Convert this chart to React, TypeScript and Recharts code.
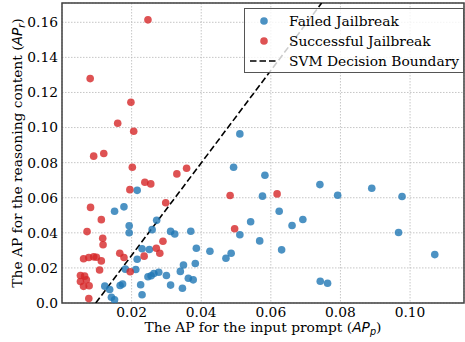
import React from 'react';
import {
  ScatterChart,
  Scatter,
  XAxis,
  YAxis,
  CartesianGrid,
  ReferenceLine,
  ReferenceArea,
  Legend,
} from 'recharts';

// Failed jailbreak points: [AP_p, AP_r]
const failedJailbreak: [number, number][] = [
  [0.0511, 0.0964], [0.0493, 0.0774], [0.0583, 0.0728], [0.0576, 0.0609],
  [0.0624, 0.0523], [0.0692, 0.0476], [0.0661, 0.0442], [0.0542, 0.0463],
  [0.0272, 0.0471], [0.0259, 0.0418], [0.0511, 0.0389], [0.0312, 0.0408],
  [0.0324, 0.0393], [0.0370, 0.0409], [0.0568, 0.0354], [0.0251, 0.0305],
  [0.0230, 0.0309], [0.0386, 0.0312], [0.0425, 0.0295], [0.0486, 0.0284],
  [0.0471, 0.0255], [0.0631, 0.0303], [0.0383, 0.0225], [0.0349, 0.0217],
  [0.0340, 0.0180], [0.0278, 0.0175], [0.0264, 0.0168], [0.0256, 0.0155],
  [0.0247, 0.0150], [0.0300, 0.0157], [0.0363, 0.0141], [0.0377, 0.0132],
  [0.0312, 0.0102], [0.0346, 0.0084], [0.0741, 0.0675], [0.0792, 0.0614],
  [0.0890, 0.0654], [0.0977, 0.0607], [0.0967, 0.0402], [0.1071, 0.0276],
  [0.0742, 0.0124], [0.0763, 0.0113], [0.0216, 0.0642], [0.0151, 0.0523],
  [0.0178, 0.0548], [0.0193, 0.0440], [0.0193, 0.0400], [0.0216, 0.0249],
  [0.0182, 0.0193], [0.0212, 0.0191], [0.0123, 0.0096], [0.0137, 0.0077],
  [0.0142, 0.0033], [0.0151, 0.0018], [0.0167, 0.0100], [0.0174, 0.0108],
  [0.0226, 0.0104], [0.0230, 0.0047],
];

// Successful jailbreak points: [AP_p, AP_r]
const successfulJailbreak: [number, number][] = [
  [0.0247, 0.1614], [0.0081, 0.1279], [0.0198, 0.1144], [0.0160, 0.1025],
  [0.0206, 0.0979], [0.0091, 0.0837], [0.0120, 0.0852], [0.0202, 0.0774],
  [0.0358, 0.0768], [0.0330, 0.0736], [0.0255, 0.0679], [0.0238, 0.0688],
  [0.0195, 0.0646], [0.0483, 0.0613], [0.0618, 0.0622], [0.0298, 0.0571],
  [0.0082, 0.0545], [0.0113, 0.0475], [0.0072, 0.0407], [0.0496, 0.0423],
  [0.0117, 0.0369], [0.0118, 0.0332], [0.0290, 0.0352], [0.0271, 0.0312],
  [0.0281, 0.0284], [0.0166, 0.0284], [0.0178, 0.0259], [0.0236, 0.0267],
  [0.0062, 0.0252], [0.0077, 0.0259], [0.0091, 0.0263], [0.0099, 0.0261],
  [0.0113, 0.0240], [0.0108, 0.0188], [0.0196, 0.0178], [0.0053, 0.0157],
  [0.0065, 0.0153], [0.0053, 0.0122], [0.0070, 0.0132], [0.0062, 0.0095],
  [0.0078, 0.0098], [0.0077, 0.0025],
];

// SVM decision boundary endpoints
const svmBoundary = [
  { x: 0.0097, y: 0 },
  { x: 0.0746, y: 0.171 },
];

const xDomain: [number, number] = [0, 0.1155];
const yDomain: [number, number] = [0, 0.171];
const xTicks = [0.02, 0.04, 0.06, 0.08, 0.1];
const yTicks = [0, 0.02, 0.04, 0.06, 0.08, 0.1, 0.12, 0.14, 0.16];

const seriesNames = ['Failed Jailbreak', 'Successful Jailbreak', 'SVM Decision Boundary'];

const BLUE = '#1f77b4';
const RED = '#d62728';
const SERIF = "'DejaVu Serif', serif";
const FS = 13.8;

const toPoints = (arr: [number, number][]) => arr.map(([x, y]) => ({ x, y }));

const makeDot = (color: string) => (props: any) => (
  <circle cx={props.cx} cy={props.cy} r={3.8} fill={color} fillOpacity={0.8} />
);

const fmtY = (v: number) => (v === 0 ? '0.0' : v.toFixed(2));
const fmtX = (v: number) => v.toFixed(2);

const XLabel = (props: any) => {
  const vb = props.viewBox || {};
  return (
    <text
      x={vb.x + vb.width / 2}
      y={vb.y + 29}
      textAnchor="middle"
      fontFamily={SERIF}
      fontSize={FS}
      fill="#000"
    >
      The AP for the input prompt (
      <tspan fontFamily="'DejaVu Sans', sans-serif" fontStyle="italic">AP</tspan>
      <tspan fontFamily="'DejaVu Sans', sans-serif" fontStyle="italic" fontSize={FS * 0.7} dy={3}>p</tspan>
      <tspan dy={-3}>)</tspan>
    </text>
  );
};

const YLabel = (props: any) => {
  const vb = props.viewBox || {};
  const cx = 22;
  const cy = vb.y + vb.height / 2;
  return (
    <text
      x={cx}
      y={cy}
      transform={`rotate(-90, ${cx}, ${cy})`}
      textAnchor="middle"
      fontFamily={SERIF}
      fontSize={FS}
      fill="#000"
    >
      The AP for the reasoning content (
      <tspan fontFamily="'DejaVu Sans', sans-serif" fontStyle="italic">AP</tspan>
      <tspan fontFamily="'DejaVu Sans', sans-serif" fontStyle="italic" fontSize={FS * 0.7} dy={3}>r</tspan>
      <tspan dy={-3}>)</tspan>
    </text>
  );
};

const rowCenters = [13, 33.3, 53];

const renderLegend = () => (
  <div
    style={{
      position: 'relative',
      width: 220,
      height: 65,
      boxSizing: 'border-box',
      border: '1px solid #555',
      background: 'rgba(255,255,255,0.8)',
    }}
  >
    {seriesNames.map((name, i) => (
      <div
        key={name}
        style={{ position: 'absolute', left: 0, top: rowCenters[i] - 1 - 10, height: 20, width: 218 }}
      >
        <svg width={28} height={20} style={{ position: 'absolute', left: 5, top: 0 }}>
          {i < 2 ? (
            <circle cx={14} cy={10} r={3.8} fill={i === 0 ? BLUE : RED} fillOpacity={0.8} />
          ) : (
            <line x1={0} y1={10} x2={28} y2={10} stroke="#000" strokeWidth={1.6} strokeDasharray="6.5 3" />
          )}
        </svg>
        <span
          style={{
            position: 'absolute',
            left: 44,
            top: 0,
            lineHeight: '20px',
            fontFamily: SERIF,
            fontSize: FS,
            color: '#000',
            whiteSpace: 'nowrap',
          }}
        >
          {name}
        </span>
      </div>
    ))}
  </div>
);

export default function App() {
  return (
    <div style={{ position: 'absolute', left: 0, top: 0, width: 465, height: 342, background: '#fff' }}>
      <ScatterChart width={465} height={342} margin={{ top: 3, right: 1, bottom: 0, left: 0 }}>
        <CartesianGrid stroke="#b8b8b8" strokeWidth={0.8} strokeDasharray="1.5 1.5" />
        <XAxis
          type="number"
          dataKey="x"
          domain={xDomain}
          ticks={xTicks}
          tickFormatter={fmtX}
          allowDataOverflow
          height={39}
          axisLine={false}
          tickLine={false}
          tickSize={2}
          tickMargin={2}
          tick={{ fontFamily: SERIF, fontSize: FS, fill: '#000' }}
          label={{ content: XLabel }}
        />
        <YAxis
          type="number"
          dataKey="y"
          domain={yDomain}
          ticks={yTicks}
          tickFormatter={fmtY}
          allowDataOverflow
          width={62}
          axisLine={false}
          tickLine={false}
          tickSize={2}
          tickMargin={2}
          tick={{ fontFamily: SERIF, fontSize: FS, fill: '#000' }}
          label={{ content: YLabel }}
        />
        <Scatter
          name={seriesNames[0]}
          data={toPoints(failedJailbreak)}
          fill={BLUE}
          shape={makeDot(BLUE)}
          isAnimationActive={false}
        />
        <Scatter
          name={seriesNames[1]}
          data={toPoints(successfulJailbreak)}
          fill={RED}
          shape={makeDot(RED)}
          isAnimationActive={false}
        />
        <ReferenceLine
          segment={svmBoundary}
          stroke="#000"
          strokeWidth={1.6}
          strokeDasharray="6.5 3"
          ifOverflow="hidden"
        />
        <ReferenceArea
          x1={xDomain[0]}
          x2={xDomain[1]}
          y1={yDomain[0]}
          y2={yDomain[1]}
          fill="none"
          stroke="#404040"
          strokeWidth={1.5}
          ifOverflow="visible"
        />
        <Legend
          layout="vertical"
          align="center"
          verticalAlign="middle"
          content={renderLegend}
          wrapperStyle={{ left: 244, top: 8, width: 220, height: 65 }}
        />
      </ScatterChart>
    </div>
  );
}
